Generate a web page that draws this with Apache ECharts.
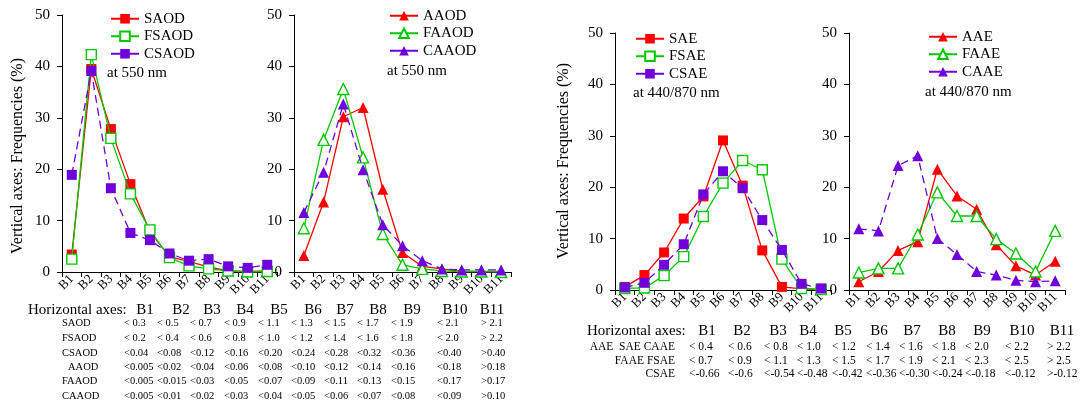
<!DOCTYPE html>
<html>
<head>
<meta charset="utf-8">
<script src="https://cdn.jsdelivr.net/npm/echarts@6/dist/echarts.min.js"></script>
<style>
  html, body { margin: 0; padding: 0; background: #fff; }
  #chart { width: 1086px; height: 405px; }
</style>
</head>
<body>
<div id="chart"></div>
<script>
// bins B1..B11
const bins = ['B1', 'B2', 'B3', 'B4', 'B5', 'B6', 'B7', 'B8', 'B9', 'B10', 'B11'];
const yTicks = [0, 10, 20, 30, 40, 50];

// frequencies (%)
const saod  = [3.4, 39.5, 27.8, 17.1, 7.8, 3.0, 2.0, 1.0, 0.2, 0.1, 0.2];
const fsaod = [2.5, 42.3, 26.0, 15.2, 8.2, 2.8, 1.2, 0.6, 0.2, 0.0, 0.1];
const csaod = [18.9, 39.1, 16.3, 7.6, 6.2, 3.6, 2.2, 2.5, 1.1, 0.8, 1.4];

const aaod  = [3.2, 13.6, 30.2, 32.0, 16.1, 3.8, 1.1, 0.6, 0.1, 0.1, 0.1];
const faaod = [8.5, 25.7, 35.6, 22.3, 7.4, 1.4, 0.6, 0.2, 0.1, 0.1, 0.0];
const caaod = [11.6, 19.4, 32.7, 19.9, 9.2, 5.1, 2.2, 0.6, 0.4, 0.4, 0.4];

const sae  = [0.6, 2.9, 7.3, 13.9, 18.2, 29.1, 20.3, 7.7, 0.6, 0.2, 0.1];
const fsae = [0.3, 0.4, 2.8, 6.5, 14.3, 20.8, 25.2, 23.4, 6.0, 0.3, 0.1];
const csae = [0.5, 1.4, 4.9, 8.9, 18.6, 23.1, 19.8, 13.6, 7.8, 1.2, 0.3];

const aae  = [1.6, 3.6, 7.7, 9.4, 23.5, 18.3, 15.7, 8.8, 4.7, 2.9, 5.6];
const faae = [3.4, 4.2, 4.2, 10.8, 19.0, 14.4, 14.4, 9.9, 7.1, 3.6, 11.5];
const caae = [11.9, 11.5, 24.2, 26.1, 10.0, 6.9, 3.6, 2.9, 1.9, 1.6, 1.8];

// bin limits tables
const leftRowNames = ['SAOD', 'FSAOD', 'CSAOD', 'AAOD', 'FAAOD', 'CAAOD'];
const leftRows = [
  ['< 0.3', '< 0.5', '< 0.7', '< 0.9', '< 1.1', '< 1.3', '< 1.5', '< 1.7', '< 1.9', '< 2.1', '> 2.1'],
  ['< 0.2', '< 0.4', '< 0.6', '< 0.8', '< 1.0', '< 1.2', '< 1.4', '< 1.6', '< 1.8', '< 2.0', '> 2.2'],
  ['<0.04', '<0.08', '<0.12', '<0.16', '<0.20', '<0.24', '<0.28', '<0.32', '<0.36', '<0.40', '>0.40'],
  ['<0.005', '<0.02', '<0.04', '<0.06', '<0.08', '<0.10', '<0.12', '<0.14', '<0.16', '<0.18', '>0.18'],
  ['<0.005', '<0.015', '<0.03', '<0.05', '<0.07', '<0.09', '<0.11', '<0.13', '<0.15', '<0.17', '>0.17'],
  ['<0.005', '<0.01', '<0.02', '<0.03', '<0.04', '<0.05', '<0.06', '<0.07', '<0.08', '<0.09', '>0.10']
];
const rightRowNames = ['AAE  SAE CAAE', 'FAAE FSAE', 'CSAE'];
const rightRows = [
  ['< 0.4', '< 0.6', '< 0.8', '< 1.0', '< 1.2', '< 1.4', '< 1.6', '< 1.8', '< 2.0', '< 2.2', '> 2.2'],
  ['< 0.7', '< 0.9', '< 1.1', '< 1.3', '< 1.5', '< 1.7', '< 1.9', '< 2.1', '< 2.3', '< 2.5', '> 2.5'],
  ['<-0.66', '<-0.6', '<-0.54', '<-0.48', '<-0.42', '<-0.36', '<-0.30', '<-0.24', '<-0.18', '<-0.12', '>-0.12']
];

const FONT = "'Liberation Serif', 'Times New Roman', serif";
const RED = '#ff0000', GREEN = '#00c800', PURPLE = '#6f00dc';

const chart = echarts.init(document.getElementById('chart'));

// plot areas
const grids = [
  { left: 62, top: 15, width: 215, height: 257 },
  { left: 294, top: 15, width: 217, height: 257 },
  { left: 615, top: 33, width: 216, height: 257 },
  { left: 849, top: 33, width: 216, height: 257 }
];

const xAxes = grids.map((g, i) => ({
  type: 'category', gridIndex: i, data: bins, boundaryGap: true,
  axisLine: { lineStyle: { color: '#000', width: 1 } },
  axisTick: { show: true, interval: 0, length: 5, lineStyle: { color: '#000' } },
  axisLabel: { interval: 0, rotate: 45, margin: 5, fontSize: 13, fontFamily: FONT, color: '#000' },
  splitLine: { show: false }
}));

const yAxes = grids.map((g, i) => ({
  type: 'value', gridIndex: i, min: yTicks[0], max: yTicks[yTicks.length - 1], interval: 10,
  axisLine: { show: true, lineStyle: { color: '#000', width: 1 } },
  axisTick: { show: true, length: 5, lineStyle: { color: '#000' } },
  axisLabel: { margin: 12, fontSize: 15, fontFamily: FONT, color: '#000' },
  splitLine: { show: false }
}));

function line(name, data, gi, shape, color, open, dashed) {
  return {
    type: 'line', name: name, data: data, xAxisIndex: gi, yAxisIndex: gi,
    symbol: shape, symbolSize: shape === 'rect' ? 10 : 11,
    showAllSymbol: true, z: dashed ? 4 : (open ? 3 : 2),
    lineStyle: { color: color, width: 1.3, type: dashed ? [8, 5] : 'solid' },
    itemStyle: open ? { color: '#fff', borderColor: color, borderWidth: 1.4 }
                    : { color: color, borderColor: color, borderWidth: 0 },
    emphasis: { disabled: true }
  };
}

const series = [
  line('SAOD', saod, 0, 'rect', RED, false, false),
  line('FSAOD', fsaod, 0, 'rect', GREEN, true, false),
  line('CSAOD', csaod, 0, 'rect', PURPLE, false, true),
  line('AAOD', aaod, 1, 'triangle', RED, false, false),
  line('FAAOD', faaod, 1, 'triangle', GREEN, true, false),
  line('CAAOD', caaod, 1, 'triangle', PURPLE, false, true),
  line('SAE', sae, 2, 'rect', RED, false, false),
  line('FSAE', fsae, 2, 'rect', GREEN, true, false),
  line('CSAE', csae, 2, 'rect', PURPLE, false, true),
  line('AAE', aae, 3, 'triangle', RED, false, false),
  line('FAAE', faae, 3, 'triangle', GREEN, true, false),
  line('CAAE', caae, 3, 'triangle', PURPLE, false, true)
];

const legendPos = [[110, 10], [389, 7], [635, 30], [928, 28]];
const legend = legendPos.map((p, i) => ({
  data: series.slice(i * 3, i * 3 + 3).map(s => s.name),
  orient: 'vertical', left: p[0], top: p[1], padding: 0,
  itemWidth: 28, itemHeight: 12, itemGap: 0, selectedMode: false,
  lineStyle: { type: 'solid' },
  textStyle: { fontSize: 15, fontFamily: FONT, color: '#000', lineHeight: 17.5 }
}));

function txt(x, y, s, size, align, rot) {
  return {
    type: 'text', x: x, y: y, rotation: rot || 0, silent: true,
    style: { text: s, fill: '#000', font: size + 'px ' + FONT,
             align: align || 'left', verticalAlign: 'middle',
             textAlign: align || 'left', textVerticalAlign: 'middle' }
  };
}

const graphic = [
  txt(107, 73, 'at 550 nm', 15),
  txt(387, 71, 'at 550 nm', 15),
  txt(633, 93, 'at 440/870 nm', 15),
  txt(925, 92, 'at 440/870 nm', 15),
  txt(18, 156, 'Vertical axes: Frequencies (%)', 16, 'center', Math.PI / 2),
  txt(564, 161, 'Vertical axes: Frequencies (%)', 16, 'center', Math.PI / 2)
];

// left table
const lHeadX = [145, 181, 212, 245, 279, 313, 345, 378, 412, 455, 492];
const lColX = [124, 157, 190, 224, 258, 291, 324, 357, 391, 437, 481];
const lRowY = [323, 338, 353, 367, 381, 396];
const lNameX = [62, 62, 62, 68, 62, 62];
graphic.push(txt(28, 310, 'Horizontal axes:', 15));
bins.forEach((b, j) => graphic.push(txt(lHeadX[j], 310, b, 15, 'center')));
leftRows.forEach((row, r) => {
  graphic.push(txt(lNameX[r], lRowY[r], leftRowNames[r], 10.5));
  row.forEach((v, j) => graphic.push(txt(lColX[j], lRowY[r], v, 10.5)));
});

// right table
const rHeadX = [707, 742, 778, 808, 843, 879, 912, 947, 982, 1022, 1062];
const rColX = [689, 728, 764, 797, 832, 866, 899, 932, 965, 1005, 1047];
const rRowY = [347, 361, 374];
graphic.push(txt(587, 331, 'Horizontal axes:', 15));
bins.forEach((b, j) => graphic.push(txt(rHeadX[j], 331, b, 15, 'center')));
rightRows.forEach((row, r) => {
  graphic.push(txt(675, rRowY[r], rightRowNames[r], 11.5, 'right'));
  row.forEach((v, j) => graphic.push(txt(rColX[j], rRowY[r], v, 11.5)));
});

chart.setOption({
  animation: false,
  backgroundColor: '#fff',
  grid: grids,
  xAxis: xAxes,
  yAxis: yAxes,
  legend: legend,
  series: series,
  graphic: graphic
});
</script>
</body>
</html>
